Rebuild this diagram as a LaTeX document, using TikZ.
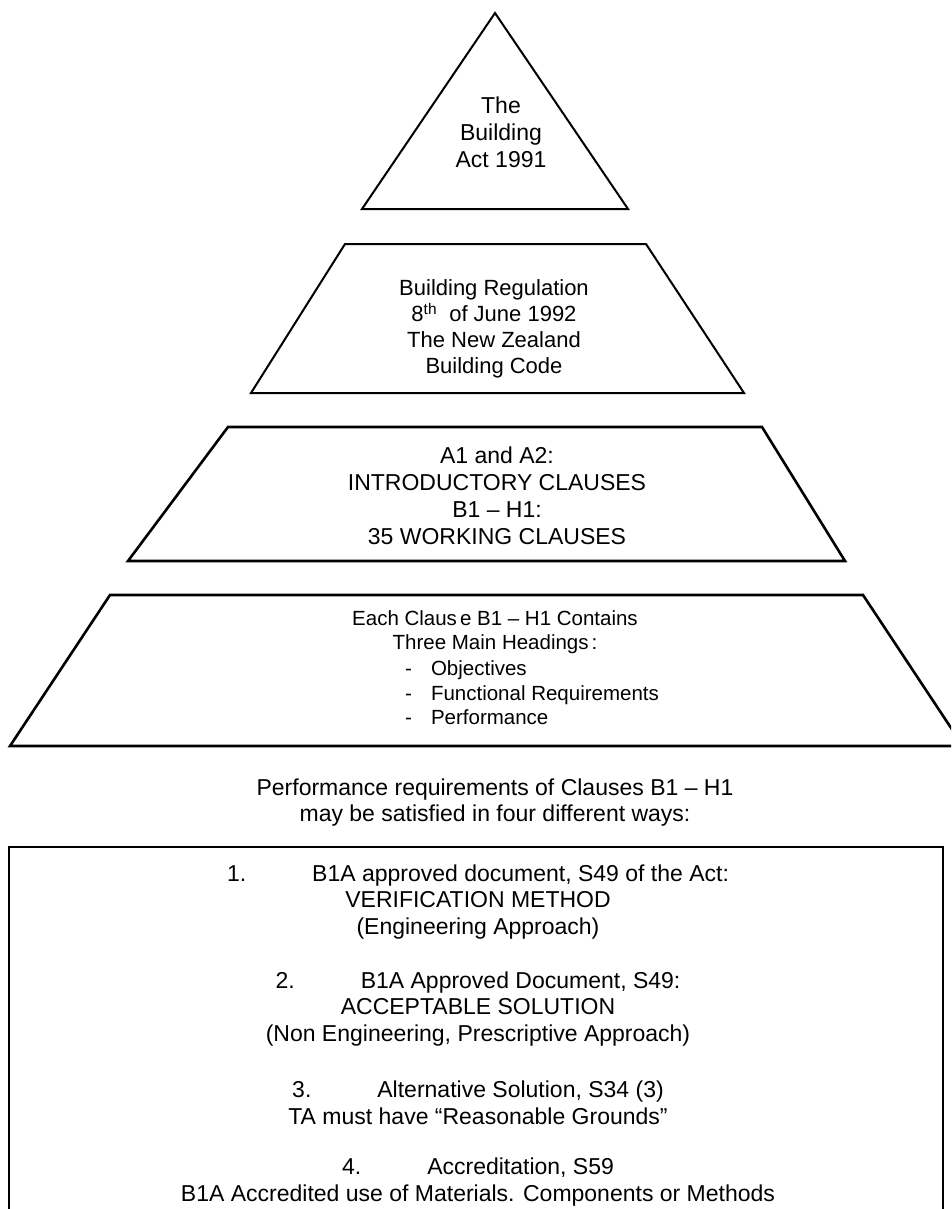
\documentclass[tikz,border=0pt]{standalone}
\usepackage{fontspec}
\setmainfont{Liberation Sans}
\begin{document}
\begin{tikzpicture}[x=1pt,y=-1pt,
  shapeline/.style={draw=black, line width=2pt, line join=miter},
  thickline/.style={draw=black, line width=2.6pt, line join=miter},
  txt/.style={align=center, inner sep=0pt, text=black},
  bigtxt/.style={txt, font=\fontsize{23}{27}\selectfont},
  midtxt/.style={txt, font=\fontsize{22}{26}\selectfont},
  smalltxt/.style={txt, font=\fontsize{20.5}{24.5}\selectfont},
  boxtxt/.style={txt, font=\fontsize{23}{26.5}\selectfont}]
\useasboundingbox (0,0) rectangle (951,1209);
\clip (0,0) rectangle (951,1209);
\fill[white] (0,0) rectangle (951,1209);

% level 1: triangle
\draw[shapeline] (495,13) -- (628,209) -- (362,209) -- cycle;
\node[bigtxt] (act) at (501,132) {The\\Building\\Act 1991};

% level 2
\draw[shapeline] (345,244) -- (646,244) -- (744,393) -- (251,393) -- cycle;
\node[midtxt] (reg) at (494,329) {Building Regulation\\8\textsuperscript{th}\ \ of June 1992\\The New Zealand\\Building Code};

% level 3
\draw[thickline] (228,427) -- (762,427) -- (845,561) -- (128,561) -- cycle;
\node[bigtxt] (clauses) at (497,496) {A1 and A2:\\INTRODUCTORY CLAUSES\\B1 -- H1:\\35 WORKING CLAUSES};

% level 4
\draw[thickline] (110,595) -- (863,595) -- (963,746) -- (10,746) -- cycle;
\node[smalltxt] (each) at (495,632) {Each Claus\kern3pt e B1 -- H1 Contains\\Three Main Headings\kern3pt:};
\node[smalltxt, anchor=west, align=left] (heads) at (405,693) {-\hspace{19pt}Objectives\\-\hspace{19pt}Functional Requirements\\-\hspace{19pt}Performance};

% caption
\node[bigtxt, font=\fontsize{23}{26}\selectfont] (perf) at (495,803) {Performance requirements of Clauses B1 -- H1\\may be satisfied in four different ways:};

% box
\draw[thickline] (9,847) rectangle (943,1240);
\node[boxtxt] (way1) at (478,902) {1.\hspace{66pt}B1A approved document, S49 of the Act:\\VERIFICATION METHOD\\(Engineering Approach)};
\node[boxtxt] (way2) at (478,1009) {2.\hspace{66pt}B1A Approved Document, S49:\\ACCEPTABLE SOLUTION\\(Non Engineering, Prescriptive Approach)};
\node[boxtxt] (way3) at (478,1103) {3.\hspace{66pt}Alternative Solution, S34 (3)\\TA must have “Reasonable Grounds”};
\node[boxtxt] (way4) at (478,1182) {4.\hspace{66pt}Accreditation, S59\\B1A Accredited use of Materials. Components or Methods};
\end{tikzpicture}
\end{document}
